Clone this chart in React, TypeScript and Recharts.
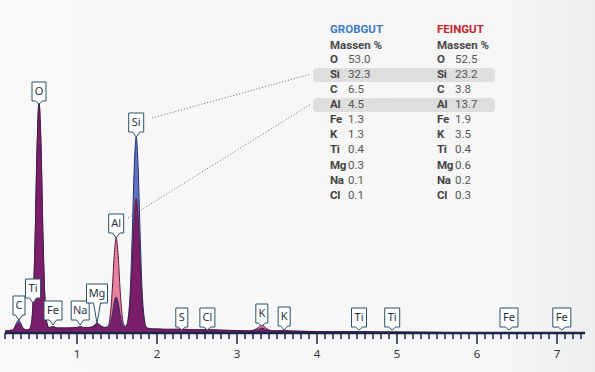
import React from 'react';
import { ComposedChart, Area, Line, XAxis, YAxis, ReferenceDot, ReferenceLine } from 'recharts';

// energy in keV, counts (arbitrary units)
const ENERGY = [0.1, 0.15, 0.2, 0.22, 0.245, 0.27, 0.295, 0.32, 0.37, 0.4, 0.425, 0.45, 0.475, 0.5, 0.525, 0.55, 0.575, 0.6, 0.625, 0.65, 0.7, 0.75, 0.8, 0.9, 1.0, 1.04, 1.08, 1.15, 1.2, 1.25, 1.3, 1.35, 1.39, 1.415, 1.44, 1.465, 1.49, 1.515, 1.54, 1.565, 1.59, 1.615, 1.64, 1.665, 1.69, 1.715, 1.74, 1.765, 1.79, 1.815, 1.84, 1.865, 1.9, 1.95, 2.0, 2.1, 2.2, 2.31, 2.4, 2.5, 2.63, 2.8, 3.0, 3.15, 3.25, 3.31, 3.37, 3.45, 3.59, 3.7, 3.9, 4.2, 4.51, 4.8, 4.94, 5.2, 5.5, 6.0, 6.4, 6.8, 7.06, 7.35];
const GROBGUT = [2, 2.5, 3, 5.8, 10.3, 13, 10.3, 5.8, 3, 3.5, 8, 30, 92, 185, 231, 185, 92, 31, 9, 5, 6, 5, 5, 5, 5.5, 6, 5.5, 5.5, 6.5, 9, 6.5, 5.5, 5.9, 9.2, 17.7, 30, 36, 30, 17.7, 9.2, 5.9, 7, 15, 41, 97, 164, 196, 164, 97, 41, 15, 6, 4.5, 4, 4, 3.5, 3.5, 3.5, 3.2, 3, 3, 2.5, 2, 2, 3, 5, 3, 2, 2, 1.8, 1.5, 1.2, 1.2, 1, 1, 0.8, 0.6, 0.3, 0.4, 0.2, 0.2, 0];
const FEINGUT = [2, 2.5, 3, 5, 8, 10, 8, 5, 3, 3.5, 7, 27, 87, 180, 229, 190, 98, 34, 10, 5.5, 6.5, 5, 5, 5, 5.5, 6.5, 5.5, 5.5, 6.5, 10, 7, 5.5, 7.6, 17, 42, 77, 95, 77, 42, 17, 7.6, 6.7, 12, 30, 67, 113, 135, 113, 67, 30, 12, 5.3, 4.5, 4, 4, 3.8, 3.8, 4, 3.5, 3.3, 3.5, 3, 2.5, 2.2, 4.5, 8, 4.5, 2.2, 2.5, 2, 1.6, 1.3, 1.2, 1, 1, 0.8, 0.6, 0.3, 0.4, 0.2, 0.2, 0];

// peak callouts
const PEAK_TEXT = ['C', 'Ti', 'O', 'Fe', 'Na', 'Mg', 'Al', 'Si', 'S', 'Cl', 'K', 'K', 'Ti', 'Ti', 'Fe', 'Fe'];
const PEAK_ENERGY = [0.275, 0.45, 0.525, 0.7, 1.04, 1.25, 1.49, 1.74, 2.31, 2.63, 3.31, 3.59, 4.525, 4.94, 6.4, 7.06];
const PEAK_TIP = [13, 30, 229, 8, 8, 10, 95, 196, 3, 3, 7, 3, 3, 3, 3, 3];
const PEAK_TAIL = [5, 5, 3, 5, 5, 20, 5, 5, 3, 3, 3, 4, 3, 3, 3, 3];

// composition table
const ELEMENTS = ['O', 'Si', 'C', 'Al', 'Fe', 'K', 'Ti', 'Mg', 'Na', 'Cl'];
const GROB_PCT = ['53.0', '32.3', '6.5', '4.5', '1.3', '1.3', '0.4', '0.3', '0.1', '0.1'];
const FEIN_PCT = ['52.5', '23.2', '3.8', '13.7', '1.9', '3.5', '0.4', '0.6', '0.2', '0.3'];
const HIGHLIGHT = ['Si', 'Al'];

const MAJOR_TICKS = [1, 2, 3, 4, 5, 6, 7];
const ALL_TICKS = Array.from({ length: 73 }, (_, i) => Math.round((0.1 + i * 0.1) * 10) / 10);

const data = ENERGY.map((e, i) => ({
  e,
  grob: GROBGUT[i],
  fein: FEINGUT[i],
  both: Math.min(GROBGUT[i], FEINGUT[i]),
}));

const AXIS = '#1b2447';

const charW = (t: string) =>
  t.split('').reduce((s, ch) => s + (ch === 'M' ? 9 : ch === 'O' ? 8 : ch === 'i' || ch === 'l' ? 3 : 6), 0);

const Callout = (props: any) => {
  const { cx, cy, text, tail } = props;
  if (cx == null || cy == null) return null;
  const w = Math.max(12, charW(text) + 6);
  const h = 19;
  const bottom = cy - tail;
  const top = bottom - h;
  const l = cx - w / 2;
  const r = cx + w / 2;
  const d = `M${l},${top} H${r} V${bottom} H${cx + 3.5} L${cx},${cy} L${cx - 3.5},${bottom} H${l} Z`;
  return (
    <g>
      <path d={d} fill="#ffffff" stroke="#2b5264" strokeWidth={1} />
      <text x={cx} y={top + h / 2 + 0.5} textAnchor="middle" dominantBaseline="middle"
        fontFamily="'Noto Sans', sans-serif" fontSize={11} fill="#1d3340">{text}</text>
    </g>
  );
};

const AxisTick = (props: any) => {
  const { x, y, payload } = props;
  const major = MAJOR_TICKS.includes(payload.value);
  return (
    <g>
      <line x1={x} x2={x} y1={y} y2={y + (major ? 11 : 6)} stroke={AXIS} strokeWidth={1.5} />
      {major && (
        <text x={x} y={y + 22} textAnchor="middle" dominantBaseline="middle"
          fontFamily="'Noto Sans', sans-serif" fontSize={11.5} fill="#333">{payload.value}</text>
      )}
    </g>
  );
};

const ROW_Y = [60, 75, 90, 105, 120, 135, 150, 166, 181, 196];

function Table() {
  return (
    <svg width={595} height={372} style={{ position: 'absolute', left: 0, top: 0, pointerEvents: 'none' }}>
      {ELEMENTS.map((el, i) => HIGHLIGHT.includes(el) && (
        <rect key={'h' + el} x={313} y={ROW_Y[i] - 7} width={182} height={14} rx={4} fill="#dedede" />
      ))}
      <g fontFamily="Roboto, sans-serif" fontSize={11.5} dominantBaseline="middle">
        <text x={330} y={30} fontWeight="bold" fill="#3d7dc3">GROBGUT</text>
        <text x={437} y={30} fontWeight="bold" fill="#c4262c">FEINGUT</text>
        <text x={330} y={46} fontWeight="bold" fill="#4a4a4a">Massen %</text>
        <text x={437} y={46} fontWeight="bold" fill="#4a4a4a">Massen %</text>
        {ELEMENTS.map((el, i) => (
          <g key={el}>
            <text x={330} y={ROW_Y[i]} fontWeight="bold" fill="#444" letterSpacing={-0.3}>{el}</text>
            <text x={348} y={ROW_Y[i]} fill="#555">{GROB_PCT[i]}</text>
            <text x={437} y={ROW_Y[i]} fontWeight="bold" fill="#444" letterSpacing={-0.3}>{el}</text>
            <text x={455} y={ROW_Y[i]} fill="#555">{FEIN_PCT[i]}</text>
          </g>
        ))}
      </g>
    </svg>
  );
}

export default function App() {
  return (
    <div style={{ position: 'relative', width: 595, height: 372, background: 'linear-gradient(to right, #f8f8f8 0%, #f6f6f6 85%, #eceef0 100%)' }}>
      <style>{`body{margin:0}`}</style>
      <ComposedChart width={595} height={372} data={data} margin={{ top: 93, right: 10, bottom: 9, left: 5 }}>
        <YAxis hide domain={[0, 240]} type="number" />
        <Area dataKey="grob" type="monotone" fill="#5f72c6" fillOpacity={1} stroke="none" isAnimationActive={false} />
        <Area dataKey="fein" type="monotone" fill="#e5829c" fillOpacity={1} stroke="none" isAnimationActive={false} />
        <Area dataKey="both" type="monotone" fill="#7a1e6c" fillOpacity={1} stroke="none" isAnimationActive={false} />
        <Line dataKey="grob" type="monotone" stroke="#27306b" strokeWidth={1} dot={false} isAnimationActive={false} />
        <Line dataKey="fein" type="monotone" stroke="#5e1742" strokeWidth={1} dot={false} isAnimationActive={false} />
        <XAxis dataKey="e" type="number" domain={[0.1, 7.35]} ticks={ALL_TICKS} interval={0}
          tickSize={0} tickMargin={0} height={30} tick={<AxisTick />}
          axisLine={{ stroke: AXIS, strokeWidth: 2.5 }} tickLine={false} />
        <ReferenceLine segment={[{ x: 1.94, y: 215 }, { x: 3.925, y: 259 }]} stroke="#666" strokeDasharray="1 2" ifOverflow="visible" />
        <ReferenceLine segment={[{ x: 1.64, y: 115 }, { x: 3.925, y: 229 }]} stroke="#666" strokeDasharray="1 2" ifOverflow="visible" />
        {PEAK_TEXT.map((t, i) => (
          <ReferenceDot key={i} x={PEAK_ENERGY[i]} y={PEAK_TIP[i]} r={0} ifOverflow="visible"
            shape={(p: any) => <Callout cx={p.cx} cy={p.cy} text={t} tail={PEAK_TAIL[i]} />} />
        ))}
      </ComposedChart>
      <Table />
    </div>
  );
}
